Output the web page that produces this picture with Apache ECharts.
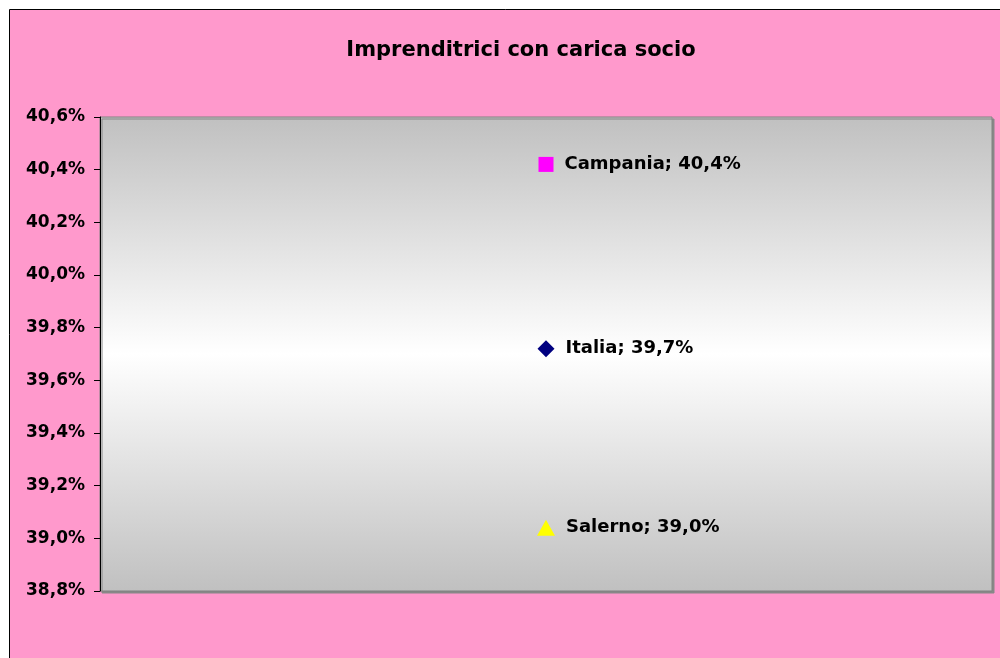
<!DOCTYPE html>
<html>
<head>
<meta charset="utf-8">
<title>Imprenditrici con carica socio</title>
<script src="https://cdn.jsdelivr.net/npm/echarts@6/dist/echarts.min.js"></script>
<style>
  html, body { margin: 0; padding: 0; background: #ffffff; }
  #chart { width: 1000px; height: 658px; }
</style>
</head>
<body>
<div id="chart"></div>
<script>
// Share of women entrepreneurs holding a partner role, by area
const areas = ['Campania', 'Italia', 'Salerno'];
const shares = [40.42, 39.72, 39.04];
const symbols = ['rect', 'diamond', 'triangle'];
const colors = ['#FF00FF', '#000080', '#FFFF00'];
const symbolSizes = [[15, 15], [17, 17], [18, 16]];
const yTicks = { min: 38.8, max: 40.6, step: 0.2 };

const fmtPct = v => v.toFixed(1).replace('.', ',') + '%';
const font = '"DejaVu Sans", Verdana, sans-serif';

const series = areas.map((name, i) => ({
  name: name,
  type: 'scatter',
  symbol: symbols[i],
  symbolSize: symbolSizes[i],
  itemStyle: { color: colors[i], opacity: 1 },
  data: [[1, shares[i]]],
  label: {
    show: true,
    position: 'right',
    distance: 11,
    formatter: p => name + '; ' + fmtPct(p.value[1]),
    color: '#000',
    fontFamily: font,
    fontWeight: 'bold',
    fontSize: 18
  },
  emphasis: { disabled: true }
}));

const chart = echarts.init(document.getElementById('chart'), null, { renderer: 'canvas' });
chart.setOption({
  animation: false,
  backgroundColor: '#ffffff',
  graphic: [{
    type: 'rect',
    z: -10,
    silent: true,
    shape: { x: 9.5, y: 9.5, width: 1000, height: 700 },
    style: { fill: '#FF99CC', stroke: '#000000', lineWidth: 1 }
  }],
  title: {
    text: 'Imprenditrici con carica socio',
    left: 516,
    top: 35,
    textAlign: 'center',
    textStyle: { fontFamily: font, fontWeight: 'bold', fontSize: 21, color: '#000' }
  },
  grid: {
    show: true,
    left: 100,
    top: 117,
    right: 8,
    bottom: 67,
    borderColor: '#808080',
    borderWidth: 1,
    shadowColor: '#888888',
    shadowOffsetX: 2,
    shadowOffsetY: 2,
    shadowBlur: 0,
    backgroundColor: new echarts.graphic.LinearGradient(0, 0, 0, 1, [
      { offset: 0, color: '#C0C0C0' },
      { offset: 0.5, color: '#FFFFFF' },
      { offset: 1, color: '#C0C0C0' }
    ])
  },
  xAxis: {
    type: 'value',
    min: 0,
    max: 2,
    show: false
  },
  yAxis: {
    type: 'value',
    z: 5,
    min: yTicks.min,
    max: yTicks.max,
    interval: yTicks.step,
    axisLine: { show: true, onZero: false, lineStyle: { color: '#000', width: 1 } },
    axisTick: { show: true, length: 6, lineStyle: { color: '#000' } },
    splitLine: { show: false },
    axisLabel: {
      margin: 15,
      formatter: v => fmtPct(v),
      color: '#000',
      fontFamily: font,
      fontWeight: 'bold',
      fontSize: 17
    }
  },
  series: series
});
</script>
</body>
</html>
